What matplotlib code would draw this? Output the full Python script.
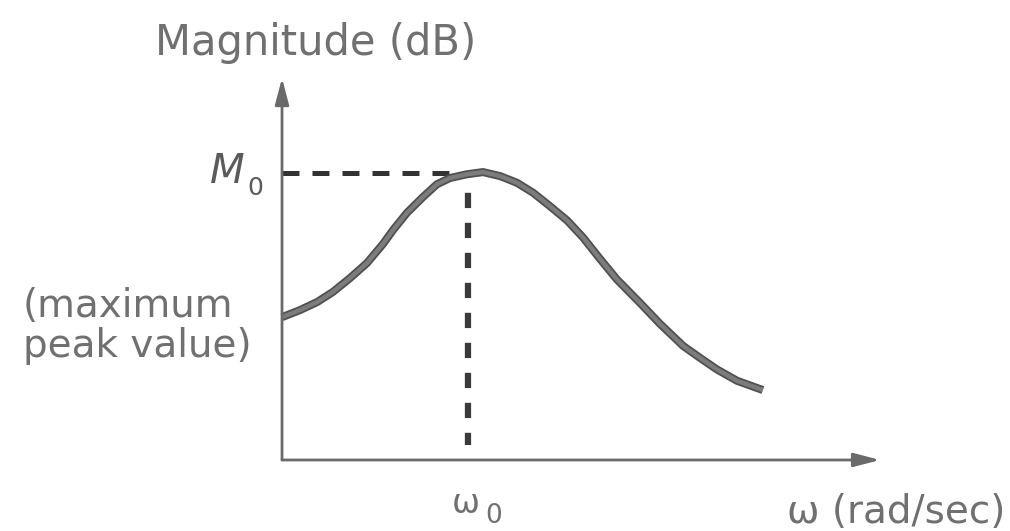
import matplotlib
matplotlib.use("Agg")
import matplotlib.pyplot as plt
import matplotlib.patheffects as pe

# Data (arbitrary units: omega 0..10, magnitude 0..10)
omega = [0.00, 0.30, 0.59, 0.85, 1.14, 1.42, 1.69, 1.86, 2.09, 2.36, 2.59, 2.81,
         3.09, 3.36, 3.65, 3.93, 4.20, 4.48, 4.77, 5.03, 5.32, 5.60, 5.99, 6.32,
         6.71, 6.99, 7.27, 7.61, 8.04]
magnitude = [3.86, 4.05, 4.27, 4.54, 4.92, 5.32, 5.84, 6.22, 6.68, 7.11, 7.45, 7.62,
             7.72, 7.78, 7.67, 7.49, 7.22, 6.86, 6.47, 6.02, 5.43, 4.88, 4.24, 3.68,
             3.08, 2.76, 2.45, 2.14, 1.89]
omega0 = 3.11
M0 = 7.76
x_axis_end = 10.0
y_axis_end = 10.32

plt.rcParams['font.family'] = ['DejaVu Sans']
plt.rcParams['lines.scale_dashes'] = False

fig = plt.figure(figsize=(10.10, 5.31), dpi=100)
ax = fig.add_axes([0, 0, 1, 1])
ax.set_xlim(-4.716, 12.174)
ax.set_ylim(-1.919, 12.43)
ax.axis('off')

axis_col = '#6a6a6a'
txt_col = '#707070'

# axes with arrows
arrow_style = '-|>,head_length=1.6,head_width=0.42'
ax.annotate('', xy=(x_axis_end, 0), xytext=(0, 0),
            arrowprops=dict(arrowstyle=arrow_style, color=axis_col, lw=2,
                            shrinkA=0, shrinkB=0))
ax.annotate('', xy=(0, y_axis_end), xytext=(0, 0),
            arrowprops=dict(arrowstyle=arrow_style, color=axis_col, lw=2,
                            shrinkA=0, shrinkB=0))

# dashed guide lines (dash lengths in points)
ax.plot([0, 2.95], [M0, M0], color='#333333', lw=3.6,
        dashes=(12.2, 9.4), dash_capstyle='butt')
ax.plot([omega0, omega0], [7.22, 0.405], color='#3a3a3a', lw=4.5,
        dashes=(11.0, 10.6), dash_capstyle='butt', snap=False)

# curve
ax.plot(omega, magnitude, color='#7c7c7c', lw=3.2, solid_capstyle='butt',
        solid_joinstyle='round',
        path_effects=[pe.Stroke(linewidth=5.8, foreground='#505050'), pe.Normal()])

# text
ax.text(0.57, 10.95, 'Magnitude (dB)', fontsize=30, color=txt_col,
        ha='center', va='baseline')
ax.text(-1.204, 7.49, 'M', fontsize=29, style='italic', color='#5a5a5a',
        ha='left', va='baseline')
ax.text(-0.585, 7.16, '0', fontsize=18, color='#5a5a5a', ha='left', va='baseline')
ax.text(-4.33, 3.86, '(maximum', fontsize=28, color=txt_col, ha='left', va='baseline')
ax.text(-4.33, 2.78, 'peak value)', fontsize=28, color=txt_col, ha='left', va='baseline')
ax.text(3.08, -1.43, 'ω', fontsize=24, color=txt_col, ha='center', va='baseline')
ax.text(3.40, -1.70, '0', fontsize=19, color=txt_col, ha='left', va='baseline')
ax.text(12.09, -1.70, 'ω (rad/sec)', fontsize=28, color=txt_col, ha='right', va='baseline')

fig.savefig('out.png', dpi=100, facecolor='white')
